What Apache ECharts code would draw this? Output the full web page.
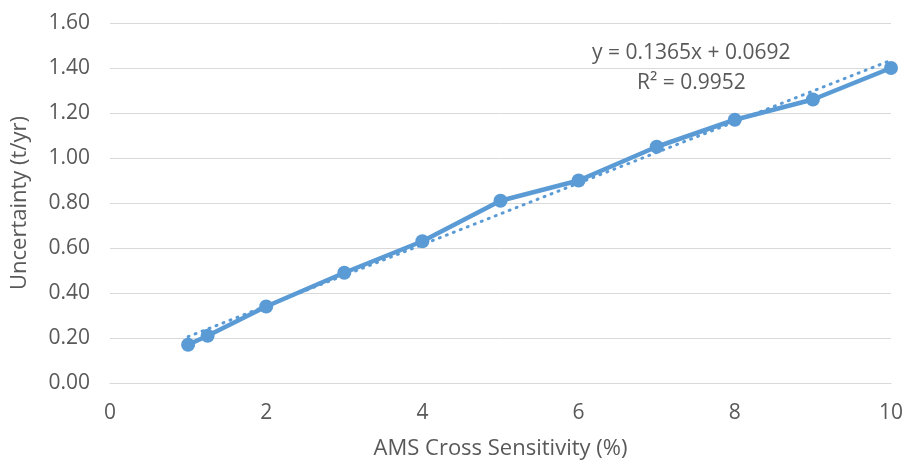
<!DOCTYPE html>
<html>
<head>
<meta charset="utf-8">
<script src="https://cdn.jsdelivr.net/npm/echarts@6/dist/echarts.min.js"></script>
<style>
  html, body { margin: 0; padding: 0; background: #fff; }
  #chart { width: 908px; height: 466px; }
</style>
</head>
<body>
<div id="chart"></div>
<script>
// AMS cross sensitivity (%) vs uncertainty (t/yr)
var sensitivity = [1, 1.25, 2, 3, 4, 5, 6, 7, 8, 9, 10];
var uncertainty = [0.17, 0.21, 0.34, 0.49, 0.63, 0.81, 0.90, 1.05, 1.17, 1.26, 1.40];
// linear trendline as printed on the chart
var slope = 0.1365;
var intercept = 0.0692;
var rSquared = "0.9952";

(function () {
  var chart = echarts.init(document.getElementById("chart"));
  var font = "'Open Sans', 'Liberation Sans', sans-serif";
  var textColor = "#595959";
  var blue = "#5b9bd5";

  var points = sensitivity.map(function (x, i) {
    return [x, uncertainty[i]];
  });
  var xFirst = sensitivity[0];
  var xLast = sensitivity[sensitivity.length - 1];
  var trend = [
    [xFirst, slope * xFirst + intercept],
    [xLast, slope * xLast + intercept],
  ];

  var option = {
    animation: false,
    textStyle: { fontFamily: font },
    grid: { left: 110, right: 17, top: 23, bottom: 83 },
    xAxis: {
      type: "value",
      min: 0,
      max: 10,
      interval: 2,
      name: "AMS Cross Sensitivity (%)",
      nameLocation: "middle",
      nameGap: 55,
      nameTextStyle: { color: textColor, fontSize: 22, fontFamily: font },
      axisLine: { show: true, lineStyle: { color: "#d9d9d9", width: 1 } },
      axisTick: { show: false },
      axisLabel: { color: textColor, fontSize: 21, margin: 20, fontFamily: font },
      splitLine: { show: false },
    },
    yAxis: {
      type: "value",
      min: 0,
      max: 1.6,
      interval: 0.2,
      name: "Uncertainty (t/yr)",
      nameLocation: "middle",
      nameGap: 79,
      nameTextStyle: { color: textColor, fontSize: 22, fontFamily: font },
      axisLine: { show: false },
      axisTick: { show: false },
      axisLabel: {
        color: textColor,
        fontSize: 21,
        margin: 20,
        fontFamily: font,
        formatter: function (v) {
          return v.toFixed(2);
        },
      },
      splitLine: { lineStyle: { color: "#d9d9d9", width: 1 } },
    },
    series: [
      {
        name: "Linear trend",
        type: "line",
        data: trend,
        symbol: "none",
        lineStyle: { color: blue, width: 3, type: [1, 6.5], cap: "round" },
        z: 1,
      },
      {
        name: "Uncertainty",
        type: "line",
        data: points,
        symbol: "circle",
        symbolSize: 14,
        itemStyle: { color: blue },
        lineStyle: { color: blue, width: 4.5 },
        z: 2,
      },
    ],
    graphic: [
      {
        type: "text",
        left: 592,
        top: 43,
        style: {
          text: "y = " + slope + "x + " + intercept,
          fill: textColor,
          font: "21px " + font,
        },
      },
      {
        type: "text",
        left: 637,
        top: 73,
        style: {
          text: "R² = " + rSquared,
          fill: textColor,
          font: "21px " + font,
        },
      },
    ],
  };
  chart.setOption(option);

  window.addEventListener("resize", function () {
    chart.resize();
  });
})();
</script>
</body>
</html>
